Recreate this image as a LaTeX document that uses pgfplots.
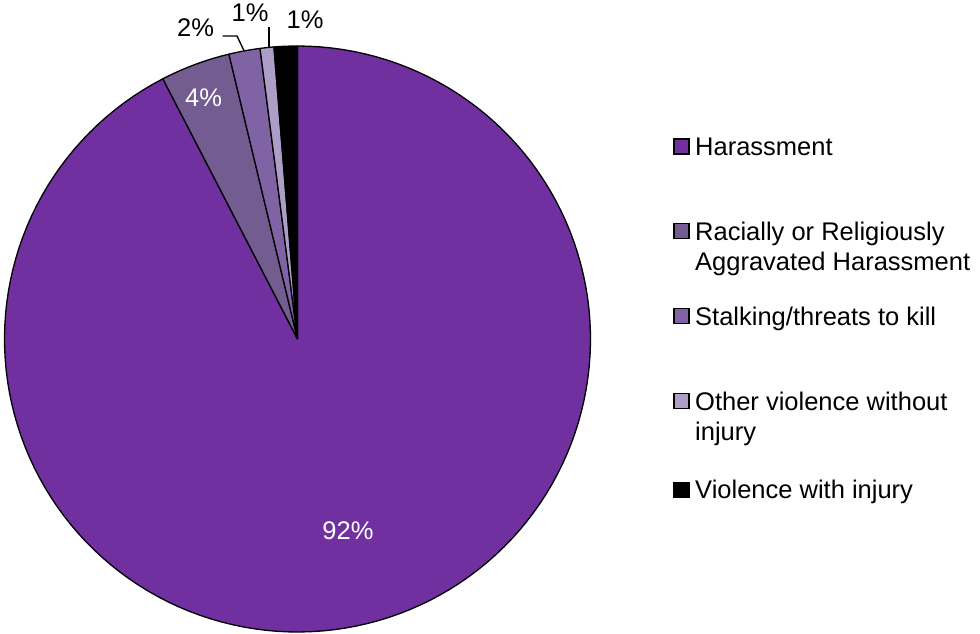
\documentclass[border=0pt]{standalone}
\usepackage{pgfplots}
\pgfplotsset{compat=1.18}
\usepackage{fontspec}
\setmainfont{Liberation Sans}
\definecolor{cHar}{RGB}{112,48,160}
\definecolor{cRac}{RGB}{115,92,143}
\definecolor{cSta}{RGB}{128,99,164}
\definecolor{cOth}{RGB}{172,158,198}
\definecolor{cVio}{RGB}{0,0,0}
% shares (percent), clockwise from 12 o'clock
\def\pHar{92.4}
\def\pRac{3.84}
\def\pSta{1.72}
\def\pOth{0.76}
\def\pVio{1.28}
\newcommand{\slice}[3]{% start angle, percent, colour
\addplot[draw=black, line width=1.3pt, line join=round, fill=#3,
  samples at={-1,0,1,...,150,151}, variable=\t]
 ({297.5+(\t>=0)*(\t<=150)*293*cos(#1-3.6*#2*min(max(\t,0),150)/150)},
  {294+(\t>=0)*(\t<=150)*293*sin(#1-3.6*#2*min(max(\t,0),150)/150)});}
\begin{document}
\fontsize{25.5}{30}\selectfont
\begin{tikzpicture}
\pgfmathsetmacro\sHar{90}
\pgfmathsetmacro\sRac{\sHar-3.6*\pHar}
\pgfmathsetmacro\sSta{\sRac-3.6*\pRac}
\pgfmathsetmacro\sOth{\sSta-3.6*\pSta}
\pgfmathsetmacro\sVio{\sOth-3.6*\pOth}
\begin{axis}[x=1pt, y=1pt, xmin=0, xmax=980, ymin=0, ymax=633,
  hide axis, clip=false, axis line style={draw=none}]
\slice{\sHar}{\pHar}{cHar}
\slice{\sRac}{\pRac}{cRac}
\slice{\sSta}{\pSta}{cSta}
\slice{\sOth}{\pOth}{cOth}
\slice{\sVio}{\pVio}{cVio}
% data labels
\node[anchor=base, text=white, inner sep=0] at (axis cs:348,94) {92\%};
\node[anchor=base, text=white, inner sep=0] at (axis cs:203.5,526) {4\%};
\node[anchor=base, inner sep=0] at (axis cs:195.5,596) {2\%};
\node[anchor=base, inner sep=0] at (axis cs:250,611) {1\%};
\node[anchor=base, inner sep=0] at (axis cs:305,604) {1\%};
\draw[line width=1.4pt] (axis cs:222.7,597) -- (axis cs:237,597) -- (axis cs:244,582.3);
\draw[line width=1.4pt] (axis cs:269,606) -- (axis cs:269,586);
% legend
\draw[line width=1.6pt, fill=cHar] (axis cs:674,479) rectangle (axis cs:689,494);
\node[anchor=base west, inner sep=0] at (axis cs:695,477) {Harassment};
\draw[line width=1.6pt, fill=cRac] (axis cs:674,394.5) rectangle (axis cs:689,409.5);
\node[anchor=base west, inner sep=0] at (axis cs:695,392.5) {Racially or Religiously};
\node[anchor=base west, inner sep=0] at (axis cs:695,362.5) {Aggravated Harassment};
\draw[line width=1.6pt, fill=cSta] (axis cs:674,309.5) rectangle (axis cs:689,324.5);
\node[anchor=base west, inner sep=0] at (axis cs:695,308) {Stalking/threats to kill};
\draw[line width=1.6pt, fill=cOth] (axis cs:674,224.5) rectangle (axis cs:689,239.5);
\node[anchor=base west, inner sep=0] at (axis cs:695,222.5) {Other violence without};
\node[anchor=base west, inner sep=0] at (axis cs:695,192.5) {injury};
\draw[line width=1.6pt, fill=cVio] (axis cs:674,135.5) rectangle (axis cs:689,150.5);
\node[anchor=base west, inner sep=0] at (axis cs:695,135) {Violence with injury};
\end{axis}
\pgfresetboundingbox
\path (0,0) rectangle (980pt,633pt);
\end{tikzpicture}
\end{document}
